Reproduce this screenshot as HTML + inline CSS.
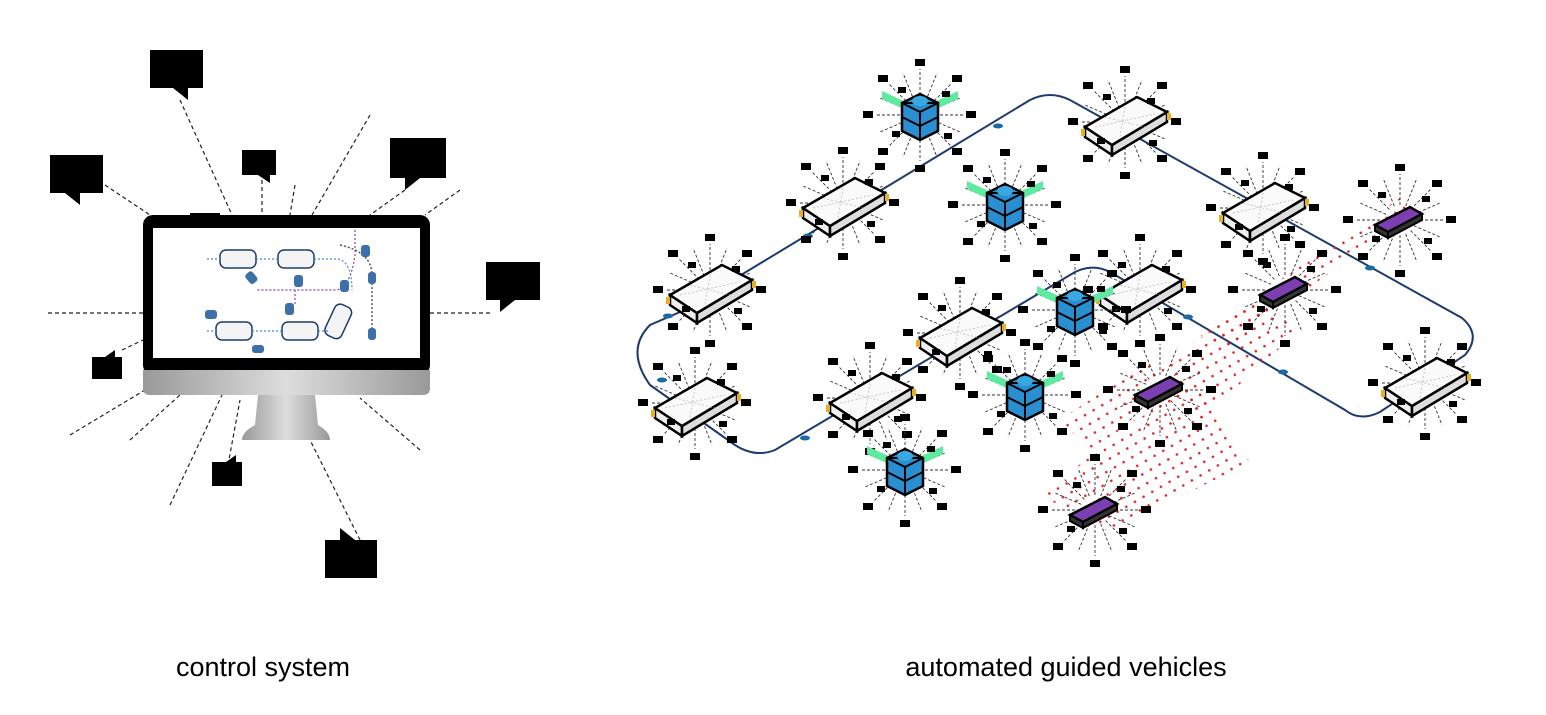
<!DOCTYPE html>
<html><head><meta charset="utf-8"><style>
body{margin:0;background:#fff;width:1546px;height:715px;overflow:hidden}
svg{display:block}
text{font-family:"Liberation Sans",sans-serif}
</style></head><body>
<svg width="1546" height="715" viewBox="0 0 1546 715" xmlns="http://www.w3.org/2000/svg">
<defs>
<pattern id="dots" width="10" height="10" patternUnits="userSpaceOnUse" patternTransform="rotate(-30)">
<circle cx="2" cy="2" r="1.3" fill="#d22"/></pattern>
<g id="burst" stroke="#333" stroke-width="0.9" stroke-dasharray="3,2" fill="none">
<line x1="15" y1="0" x2="44" y2="0"/><line x1="13.9" y1="5.7" x2="40" y2="17"/>
<line x1="10.6" y1="10.6" x2="31" y2="31"/><line x1="5.7" y1="13.9" x2="17" y2="42"/>
<line x1="0" y1="15" x2="0" y2="46"/><line x1="-5.7" y1="13.9" x2="-17" y2="42"/>
<line x1="-10.6" y1="10.6" x2="-31" y2="31"/><line x1="-13.9" y1="5.7" x2="-40" y2="17"/>
<line x1="-15" y1="0" x2="-44" y2="0"/><line x1="-13.9" y1="-5.7" x2="-40" y2="-17"/>
<line x1="-10.6" y1="-10.6" x2="-31" y2="-31"/><line x1="-5.7" y1="-13.9" x2="-17" y2="-42"/>
<line x1="0" y1="-15" x2="0" y2="-46"/><line x1="5.7" y1="-13.9" x2="17" y2="-42"/>
<line x1="10.6" y1="-10.6" x2="31" y2="-31"/><line x1="13.9" y1="-5.7" x2="40" y2="-17"/>
</g>
<g id="calls" fill="#000">
<rect x="46" y="-4" width="10" height="7"/><rect x="32" y="33" width="10" height="7"/>
<rect x="-5" y="50" width="10" height="7"/><rect x="-42" y="33" width="10" height="7"/>
<rect x="-57" y="-4" width="10" height="7"/><rect x="-42" y="-40" width="10" height="7"/>
<rect x="-5" y="-56" width="10" height="7"/><rect x="32" y="-40" width="10" height="7"/>
<rect x="22" y="-24" width="8" height="6"/><rect x="-28" y="16" width="8" height="6"/>
<rect x="-22" y="-28" width="8" height="6"/><rect x="24" y="18" width="8" height="6"/>
</g>
<g id="agv">
<use href="#burst"/>
<polygon points="-40,5 -13,23 -13,33 -40,15" fill="#eee" stroke="#000" stroke-width="2.5"/>
<polygon points="-13,23 42,-10 42,0 -13,33" fill="#ddd" stroke="#000" stroke-width="2.5"/>
<polygon points="-40,5 12,-25 42,-10 -13,23" fill="#fafafa" stroke="#000" stroke-width="2.5"/>
<g stroke="#bbb" stroke-width="0.8" stroke-dasharray="2,2"><line x1="-30" y1="5" x2="30" y2="-8"/><line x1="0" y1="-15" x2="-5" y2="15"/><line x1="-20" y1="-5" x2="20" y2="5"/></g>
<rect x="-44" y="7" width="4" height="7" fill="#e8b020"/><rect x="42" y="-9" width="4" height="7" fill="#e8b020"/>
<use href="#calls"/>
</g>
<g id="rack">
<use href="#burst"/>
<polygon points="-38,-24 -12,-12 -12,-4 -38,-16" fill="#5eeaa0"/>
<polygon points="12,-12 38,-24 38,-16 12,-4" fill="#5eeaa0"/>
<polygon points="-18,-12 0,-21 18,-12 18,16 0,25 -18,16" fill="#2a8fd0" stroke="#000" stroke-width="2.5"/>
<polygon points="-18,-12 0,-3 18,-12" fill="none" stroke="#000" stroke-width="2"/>
<line x1="-18" y1="2" x2="0" y2="11" stroke="#000" stroke-width="2"/><line x1="0" y1="11" x2="18" y2="2" stroke="#000" stroke-width="2"/>
<line x1="0" y1="-3" x2="0" y2="25" stroke="#000" stroke-width="2"/>
<ellipse cx="0" cy="-14" rx="8" ry="5" fill="#3aa8e0"/>
<use href="#calls"/>
</g>
<g id="pur">
<use href="#burst"/>
<polygon points="-25,5 10,-13 22,-6 -12,12" fill="#7b3fb0" stroke="#000" stroke-width="2.5"/>
<polygon points="-25,5 -12,12 -12,18 -25,11" fill="#333" stroke="#000" stroke-width="2"/>
<polygon points="-12,12 22,-6 22,0 -12,18" fill="#333" stroke="#000" stroke-width="2"/>
<use href="#calls"/>
</g>
</defs>

<g stroke="#222" stroke-width="1.2" stroke-dasharray="4,3" fill="none">
<line x1="180" y1="100" x2="232" y2="215"/><line x1="105" y1="185" x2="150" y2="215"/>
<line x1="262" y1="180" x2="262" y2="215"/><line x1="295" y1="185" x2="290" y2="215"/>
<line x1="370" y1="115" x2="312" y2="215"/><line x1="405" y1="190" x2="370" y2="215"/>
<line x1="460" y1="190" x2="425" y2="215"/><line x1="430" y1="313" x2="490" y2="313"/>
<line x1="48" y1="313" x2="143" y2="313"/><line x1="122" y1="350" x2="143" y2="340"/>
<line x1="70" y1="435" x2="145" y2="390"/><line x1="130" y1="440" x2="180" y2="395"/>
<line x1="170" y1="505" x2="222" y2="395"/><line x1="228" y1="465" x2="240" y2="400"/>
<line x1="360" y1="540" x2="310" y2="440"/><line x1="420" y1="450" x2="360" y2="398"/>
</g>
<g fill="#000">
<rect x="150" y="50" width="53" height="38"/><polygon points="173,88 188,88 188,100"/>
<rect x="50" y="155" width="53" height="38"/><polygon points="65,193 80,193 80,205"/>
<rect x="242" y="150" width="34" height="25"/><polygon points="258,175 270,175 270,183"/>
<rect x="390" y="138" width="56" height="40"/><polygon points="405,178 420,178 405,190"/>
<rect x="486" y="262" width="54" height="38"/><polygon points="500,300 515,300 500,312"/>
<rect x="92" y="357" width="30" height="22"/><polygon points="105,357 115,357 115,350"/>
<rect x="212" y="462" width="30" height="24"/><polygon points="226,462 236,462 236,455"/>
<rect x="325" y="540" width="52" height="38"/><polygon points="340,540 355,540 340,528"/>
<rect x="190" y="213" width="30" height="6"/>
</g>
<rect x="143" y="215" width="287" height="160" rx="10" fill="#000"/>
<rect x="153" y="228" width="267" height="130" fill="#fff"/>
<defs><linearGradient id="sil" x1="0" x2="1"><stop offset="0" stop-color="#999"/><stop offset=".5" stop-color="#ddd"/><stop offset="1" stop-color="#999"/></linearGradient></defs>
<path d="M143,370 H430 V388 Q430,395 423,395 H150 Q143,395 143,388 Z" fill="url(#sil)"/>
<path d="M258,395 H315 L318,425 Q330,432 330,440 H242 Q242,432 255,425 Z" fill="url(#sil)"/>
<g>
<g fill="#f4f4f4" stroke="#1d3b6e" stroke-width="1.5">
<rect x="220" y="250" width="36" height="18" rx="6"/><rect x="278" y="250" width="36" height="18" rx="6"/>
<rect x="216" y="322" width="36" height="18" rx="6"/><rect x="282" y="322" width="36" height="18" rx="6"/>
<rect x="330" y="305" width="18" height="34" rx="6" transform="rotate(25 340 320)"/>
</g>
<g stroke="#3a8de0" stroke-width="1.2" stroke-dasharray="2,2" fill="none">
<path d="M207,259 H220 M256,259 H278 M314,259 H338 Q352,262 352,290"/>
<path d="M207,331 H216 M252,331 H282 M318,331 H330"/>
</g>
<path d="M355,230 V255 Q350,290 335,290 H257 M295,290 V305" stroke="#8a3fc0" stroke-width="1.2" stroke-dasharray="2,2" fill="none"/>
<path d="M340,245 Q372,252 372,275 V340" stroke="#555" stroke-width="1.5" stroke-dasharray="2,2" fill="none"/>
<g fill="#3d6fa8">
<rect x="247" y="272" width="9" height="12" rx="3" transform="rotate(-40 251 278)"/>
<rect x="294" y="275" width="9" height="12" rx="3"/><rect x="340" y="280" width="9" height="12" rx="3"/>
<rect x="285" y="303" width="9" height="12" rx="3"/><rect x="205" y="310" width="12" height="9" rx="3"/>
<rect x="252" y="345" width="12" height="8" rx="3"/><rect x="361" y="245" width="9" height="12" rx="3"/>
<rect x="368" y="272" width="8" height="12" rx="3"/><rect x="368" y="328" width="8" height="12" rx="3"/>
</g>
</g>

<path d="M680,312 L1030,100 Q1050,90 1070,100 L1462,318 Q1482,335 1465,355 L1380,412 Q1360,422 1345,410 L1110,272 Q1090,262 1070,275 L775,450 Q755,458 735,445 L650,385 Q625,350 650,325 Z" fill="none" stroke="#1d3b6e" stroke-width="2"/>
<g fill="#1a6aa0">
<ellipse cx="998" cy="126" rx="5" ry="2.5"/><ellipse cx="808" cy="236" rx="5" ry="2.5"/>
<ellipse cx="668" cy="316" rx="5" ry="2.5"/><ellipse cx="662" cy="380" rx="5" ry="2.5"/>
<ellipse cx="805" cy="438" rx="5" ry="2.5"/><ellipse cx="1188" cy="317" rx="5" ry="2.5"/>
<ellipse cx="1283" cy="372" rx="5" ry="2.5"/><ellipse cx="1370" cy="268" rx="5" ry="2.5"/>
</g>
<polygon points="1040,495 1190,380 1250,462 1110,532" fill="url(#dots)"/>
<polygon points="1150,370 1260,300 1300,330 1200,420" fill="url(#dots)"/>
<polygon points="1200,335 1400,198 1412,212 1225,350" fill="url(#dots)"/>
<polygon points="1060,420 1150,360 1180,390 1090,450" fill="url(#dots)"/>

<use href="#agv" x="843" y="203"/><use href="#agv" x="710" y="290"/>
<use href="#agv" x="695" y="403"/><use href="#agv" x="870" y="398"/>
<use href="#agv" x="960" y="333"/><use href="#agv" x="1125" y="122"/>
<use href="#agv" x="1263" y="208"/><use href="#agv" x="1140" y="290"/>
<use href="#agv" x="1425" y="383"/>
<use href="#rack" x="920" y="115"/><use href="#rack" x="1005" y="205"/>
<use href="#rack" x="1075" y="310"/><use href="#rack" x="1025" y="395"/>
<use href="#rack" x="905" y="470"/>
<use href="#pur" x="1400" y="220"/><use href="#pur" x="1285" y="290"/>
<use href="#pur" x="1160" y="390"/><use href="#pur" x="1095" y="510"/>

<text x="263" y="676" font-size="27" text-anchor="middle" fill="#000">control system</text>
<text x="1066" y="676" font-size="27" text-anchor="middle" fill="#000">automated guided vehicles</text>
</svg>
</body></html>
